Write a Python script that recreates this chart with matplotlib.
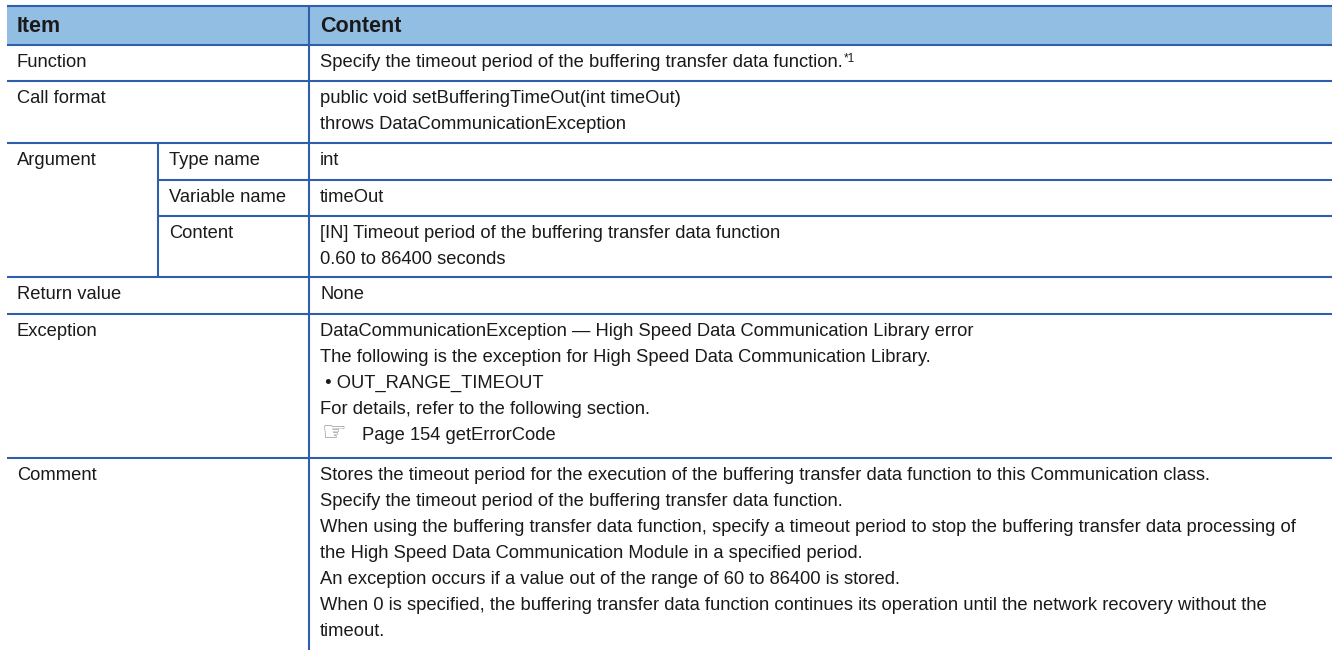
import matplotlib
matplotlib.use("Agg")
import matplotlib.pyplot as plt
from matplotlib.patches import Rectangle

# Table text
header_labels = ["Item", "Content"]
item_labels = ["Function", "Call format", "Argument", "Return value", "Exception", "Comment"]
argument_labels = ["Type name", "Variable name", "Content"]

function_lines = ["Specify the timeout period of the buffering transfer data function."]
footnote_mark = "*1"
call_format_lines = ["public void setBufferingTimeOut(int timeOut)",
                     "throws DataCommunicationException"]
type_name_lines = ["int"]
variable_name_lines = ["timeOut"]
arg_content_lines = ["[IN] Timeout period of the buffering transfer data function",
                     "0.60 to 86400 seconds"]
return_lines = ["None"]
exception_lines = ["DataCommunicationException \u2014 High Speed Data Communication Library error",
                   "The following is the exception for High Speed Data Communication Library.",
                   " \u2022 OUT_RANGE_TIMEOUT",
                   "For details, refer to the following section.",
                   "Page 154 getErrorCode"]
comment_lines = ["Stores the timeout period for the execution of the buffering transfer data function to this Communication class.",
                 "Specify the timeout period of the buffering transfer data function.",
                 "When using the buffering transfer data function, specify a timeout period to stop the buffering transfer data processing of",
                 "the High Speed Data Communication Module in a specified period.",
                 "An exception occurs if a value out of the range of 60 to 86400 is stored.",
                 "When 0 is specified, the buffering transfer data function continues its operation until the network recovery without the",
                 "timeout."]

content_rows = [function_lines, call_format_lines, None, return_lines, exception_lines, comment_lines]
argument_rows = [type_name_lines, variable_name_lines, arg_content_lines]

# layout in pixels
W, H = 1332, 650
left, sub_x, col_x = 7, 158, 309
header_top, header_bot = 6, 45
row_tops = [45, 81, 143, 277, 314, 458]
sub_tops = [143, 180, 216]
pad_x = 11
first_base = 22
line_step = 26

line_color = "#2f5fab"
header_fill = "#93bee3"
text_color = "#1a1a1a"
font = "Liberation Sans"
fs = 13.25

fig = plt.figure(figsize=(W / 100, H / 100), dpi=100)
ax = fig.add_axes([0, 0, 1, 1])
ax.set_xlim(0, W)
ax.set_ylim(H, 0)
ax.axis("off")

# header
ax.add_patch(Rectangle((left, header_top), W - left, header_bot - header_top,
                       facecolor=header_fill, edgecolor="none"))
for x, label in zip([left + 10, col_x + 11], header_labels):
    ax.text(x, header_top + 26, label, fontsize=15.5, fontweight="bold",
            family=font, color=text_color, va="baseline")

# grid lines
lw = 1.5
for y in [header_top, header_bot] + row_tops[1:]:
    ax.plot([left, W], [y, y], color=line_color, lw=lw, solid_capstyle="butt")
for y in sub_tops[1:]:
    ax.plot([sub_x, W], [y, y], color=line_color, lw=lw, solid_capstyle="butt")
ax.plot([col_x, col_x], [header_top, H], color=line_color, lw=lw, solid_capstyle="butt")
ax.plot([sub_x, sub_x], [row_tops[2], row_tops[3]], color=line_color, lw=lw, solid_capstyle="butt")


def put_lines(x, top, lines):
    objs = []
    for i, s in enumerate(lines):
        objs.append(ax.text(x, top + first_base + i * line_step, s, fontsize=fs,
                            family=font, color=text_color, va="baseline"))
    return objs


# item column
for top, label in zip(row_tops, item_labels):
    put_lines(left + 10, top, [label])
for top, label in zip(sub_tops, argument_labels):
    put_lines(sub_x + 11, top, [label])

# content column
content_objs = {}
for top, lines in zip(row_tops, content_rows):
    if lines is None:
        continue
    content_objs[id(lines)] = put_lines(col_x + pad_x, top, lines)
for top, lines in zip(sub_tops, argument_rows):
    put_lines(col_x + pad_x, top, lines)

# page reference line: hand icon + shifted text
ref_obj = content_objs[id(exception_lines)][-1]
ref_obj.set_x(col_x + 53)
ax.text(col_x + 13, ref_obj.get_position()[1] + 1, "\u261e", fontsize=20,
        family="DejaVu Sans", color="#8a8a8a", va="baseline")

# footnote superscript after the function text
fig.canvas.draw()
renderer = fig.canvas.get_renderer()
fobj = content_objs[id(function_lines)][0]
bb = fobj.get_window_extent(renderer).transformed(ax.transData.inverted())
ax.text(bb.x1 + 1, bb.y1 - 1, footnote_mark, fontsize=8.5, family=font,
        color=text_color, va="top")

fig.savefig("out.png", dpi=100, facecolor="white")
